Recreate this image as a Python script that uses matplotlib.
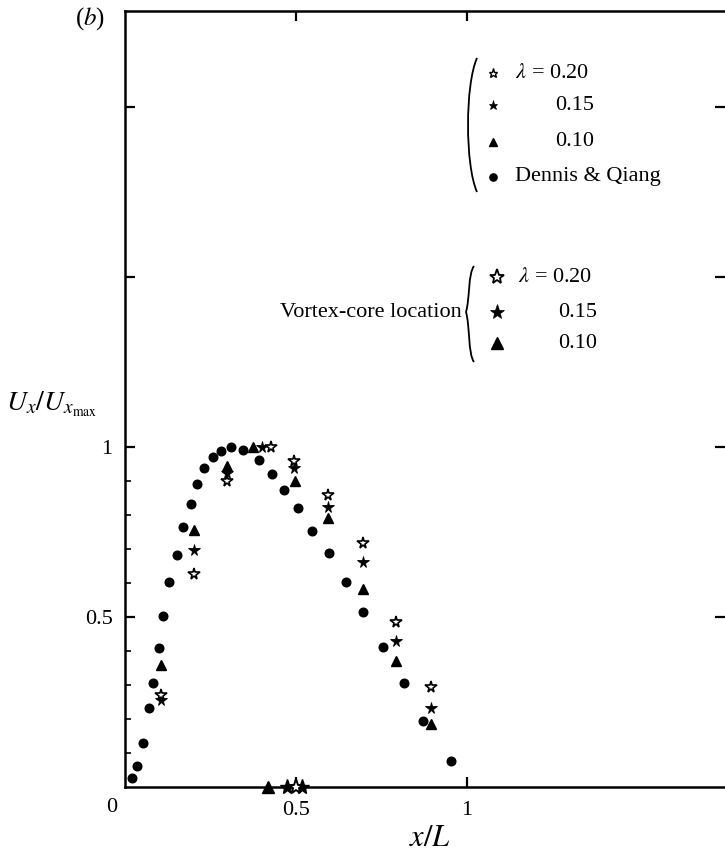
import matplotlib
matplotlib.use("Agg")
import matplotlib.pyplot as plt
from matplotlib.path import Path
from matplotlib.patches import PathPatch

plt.rcParams['font.family'] = ['Liberation Serif', 'DejaVu Serif']
plt.rcParams['mathtext.fontset'] = 'stix'

# ---------------- data ----------------
# Dennis & Qiang (filled circles)
dq_x = [0.020, 0.034, 0.052, 0.070, 0.081, 0.100, 0.110, 0.130, 0.151, 0.169,
        0.192, 0.210, 0.231, 0.256, 0.281, 0.310, 0.344, 0.392, 0.431, 0.466,
        0.505, 0.547, 0.596, 0.645, 0.695, 0.755, 0.816, 0.870, 0.953]
dq_y = [0.026, 0.061, 0.129, 0.232, 0.305, 0.408, 0.504, 0.602, 0.683, 0.766,
        0.832, 0.891, 0.937, 0.970, 0.989, 0.999, 0.992, 0.962, 0.922, 0.874,
        0.821, 0.753, 0.687, 0.602, 0.516, 0.411, 0.306, 0.193, 0.076]

# lambda = 0.20 (open stars)
l20_x = [0.104, 0.202, 0.297, 0.426, 0.495, 0.595, 0.695, 0.792, 0.894]
l20_y = [0.270, 0.626, 0.900, 1.000, 0.960, 0.860, 0.717, 0.484, 0.295]
# lambda = 0.15 (filled stars)
l15_x = [0.104, 0.202, 0.297, 0.400, 0.495, 0.595, 0.695, 0.792, 0.894]
l15_y = [0.256, 0.698, 0.924, 1.000, 0.937, 0.825, 0.663, 0.430, 0.232]
# lambda = 0.10 (filled triangles)
l10_x = [0.104, 0.202, 0.297, 0.375, 0.497, 0.595, 0.695, 0.792, 0.894]
l10_y = [0.360, 0.756, 0.944, 1.000, 0.901, 0.790, 0.581, 0.371, 0.185]

# vortex-core locations (on x axis)
vc20_x = [0.500]
vc15_x = [0.474, 0.517]
vc10_x = [0.418]

upper_labels = [r'$\lambda$ = 0.20', '0.15', '0.10', 'Dennis & Qiang']
lower_labels = [r'$\lambda$ = 0.20', '0.15', '0.10']
lower_title = 'Vortex-core location'

xtick_vals = [0.5, 1.0]
xtick_labels = ['0.5', '1']
ytick_vals = [0.5, 1.0, 1.5, 2.0]
ytick_labels = ['0.5', '1', '', '']
yminor_vals = [0.1, 0.2, 0.3, 0.4, 0.6, 0.7, 0.8, 0.9]

# ---------------- figure ----------------
W, H = 725, 855
fig = plt.figure(figsize=(W / 100, H / 100), dpi=100)

def fx(px):
    return px / W

def fy(py):
    return 1 - py / H

ax_l, ax_r, ax_t, ax_b = 125, 725, 11, 787
ax = fig.add_axes([fx(ax_l), fy(ax_b), fx(ax_r - ax_l), (ax_b - ax_t) / H])
ax.set_xlim(0, (ax_r - ax_l) / 342)
ax.set_ylim(0, (ax_b - ax_t) / 340)

for s in ['left', 'bottom', 'top']:
    ax.spines[s].set_linewidth(1.8)
ax.spines['right'].set_visible(False)

FS = 16
ax.set_xticks(xtick_vals, xtick_labels)
ax.set_yticks(ytick_vals, ytick_labels)
ax.set_yticks(yminor_vals, minor=True)
ax.tick_params(axis='both', which='major', direction='in', length=7, width=1.6,
               labelsize=FS, top=True, right=True)
ax.tick_params(axis='y', which='minor', direction='in', length=4, width=1.2,
               right=False)
ax.tick_params(axis='x', which='major', pad=10)
ax.tick_params(axis='y', which='major', pad=9)

# data
ax.plot(dq_x, dq_y, 'o', ms=6.2, color='black', mec='black', clip_on=False)
ax.plot(l10_x, l10_y, '^', ms=6.8, color='black', mec='black', clip_on=False)
ax.plot(l15_x, l15_y, '*', ms=8.5, color='black', mec='black', mew=0.6, clip_on=False)
ax.plot(l20_x, l20_y, '*', ms=8.5, mfc='white', mec='black', mew=1.2, clip_on=False)

# vortex-core locations
ax.plot(vc10_x, [0] * len(vc10_x), '^', ms=9, color='black', clip_on=False, zorder=5)
ax.plot(vc15_x, [0] * len(vc15_x), '*', ms=11, color='black', clip_on=False, zorder=5)
ax.plot(vc20_x, [0] * len(vc20_x), '*', ms=11, mfc='white', mec='black', mew=1.4,
        clip_on=False, zorder=6)

# origin label and axis labels
fig.text(fx(112), fy(807), '0', fontsize=FS, ha='center', va='center')
fig.text(fx(430), fy(838), r'$x/L$', fontsize=22, ha='center', va='center')
fig.text(fx(52), fy(404), r'$U_x/U_{x_{\rm max}}$', fontsize=20, ha='center', va='center')
fig.text(fx(90), fy(19), r'($b$)', fontsize=18, ha='center', va='center')

# ---------------- upper legend ----------------
up_rows = [73, 105, 142, 177]
mx_up = 493
up_styles = [dict(marker='*', ms=6.5, mfc='white', mec='black', mew=1.0),
             dict(marker='*', ms=6.5, mfc='black', mec='black', mew=0.5),
             dict(marker='^', ms=5.5, mfc='black', mec='black'),
             dict(marker='o', ms=5.2, mfc='black', mec='black')]
for r, st, lab in zip(up_rows, up_styles, upper_labels):
    fig.lines.append(plt.Line2D([fx(mx_up)], [fy(r)], transform=fig.transFigure,
                                linestyle='none', **st))
    if lab.startswith('0.'):
        fig.text(fx(594), fy(r), lab, fontsize=FS, ha='right', va='center')
    else:
        fig.text(fx(515), fy(r), lab, fontsize=FS, ha='left', va='center')

# left parenthesis
verts = [(fx(477), fy(58)), (fx(465), fy(85)), (fx(465), fy(165)), (fx(477), fy(192))]
p = Path(verts, [Path.MOVETO, Path.CURVE4, Path.CURVE4, Path.CURVE4])
fig.patches.append(PathPatch(p, transform=fig.transFigure, fill=False, lw=1.3,
                             edgecolor='black'))

# ---------------- lower legend ----------------
lo_rows = [277, 312, 343]
mx_lo = 497
lo_styles = [dict(marker='*', ms=11, mfc='white', mec='black', mew=1.3),
             dict(marker='*', ms=11, mfc='black', mec='black', mew=0.5),
             dict(marker='^', ms=9, mfc='black', mec='black')]
for r, st, lab in zip(lo_rows, lo_styles, lower_labels):
    fig.lines.append(plt.Line2D([fx(mx_lo)], [fy(r)], transform=fig.transFigure,
                                linestyle='none', **st))
    if lab.startswith('0.'):
        fig.text(fx(597), fy(r), lab, fontsize=FS, ha='right', va='center')
    else:
        fig.text(fx(518), fy(r), lab, fontsize=FS, ha='left', va='center')
fig.text(fx(462), fy(312), lower_title, fontsize=FS, ha='right', va='center')

# curly brace
bx, btop, bmid, bbot = 474, 266, 312, 362
verts = [(fx(bx), fy(btop)), (fx(bx - 6), fy(btop + 8)), (fx(bx - 4), fy(bmid - 14)),
         (fx(bx - 8), fy(bmid)),
         (fx(bx - 4), fy(bmid + 14)), (fx(bx - 6), fy(bbot - 8)), (fx(bx), fy(bbot))]
codes = [Path.MOVETO, Path.CURVE4, Path.CURVE4, Path.CURVE4,
         Path.CURVE4, Path.CURVE4, Path.CURVE4]
fig.patches.append(PathPatch(Path(verts, codes), transform=fig.transFigure,
                             fill=False, lw=1.3, edgecolor='black'))

fig.savefig('out.png', dpi=100)
